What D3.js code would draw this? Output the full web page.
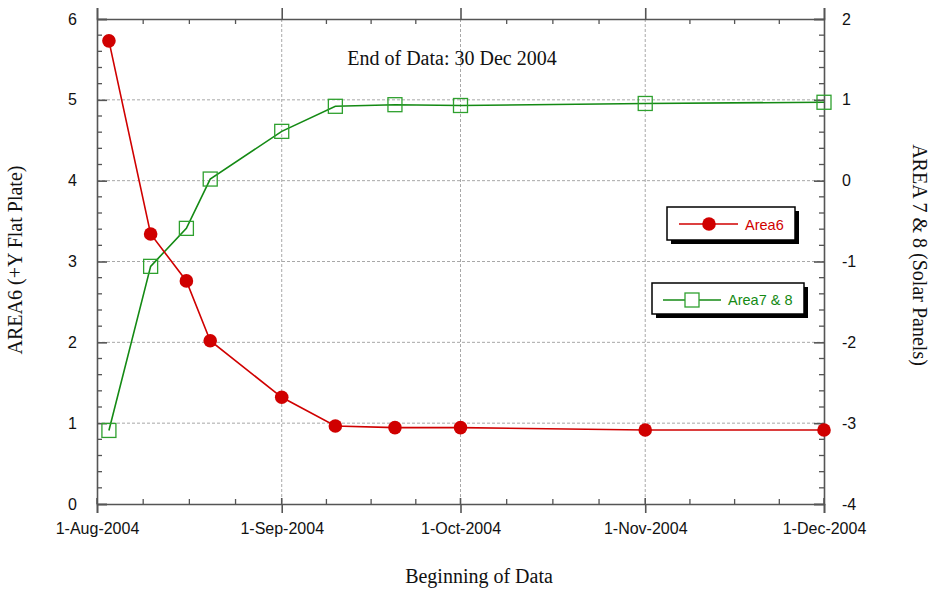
<!DOCTYPE html>
<html>
<head>
<meta charset="utf-8">
<script src="https://cdn.jsdelivr.net/npm/d3@7"></script>
<style>
  body { margin: 0; background: #fff; }
  svg { display: block; }
</style>
</head>
<body>
<svg id="chart" width="935" height="590"></svg>
<script>
// Sample dates shared by both series
const sampleDates = ["2004-08-03", "2004-08-10", "2004-08-16", "2004-08-20", "2004-09-01",
                     "2004-09-10", "2004-09-20", "2004-10-01", "2004-11-01", "2004-12-01"];
// AREA6 (+Y Flat Plate), left axis
const area6 = [5.73, 3.34, 2.76, 2.02, 1.32, 0.965, 0.945, 0.945, 0.915, 0.915];
// AREA 7 & 8 (Solar Panels), right axis
const area78 = [-3.09, -1.06, -0.59, 0.02, 0.61, 0.92, 0.94, 0.93, 0.955, 0.97];

const monthTicks = ["2004-08-01", "2004-09-01", "2004-10-01", "2004-11-01", "2004-12-01"];
const leftTicks = [0, 1, 2, 3, 4, 5, 6];
const rightTicks = [-4, -3, -2, -1, 0, 1, 2];
const seriesNames = ["Area6", "Area7 & 8"];
const chartTitle = "End of Data: 30 Dec 2004";
const xTitle = "Beginning of Data";
const yLeftTitle = "AREA6 (+Y Flat Plate)";
const yRightTitle = "AREA 7 & 8 (Solar Panels)";

const parse = d3.utcParse("%Y-%m-%d");
const dates = sampleDates.map(parse);
const months = monthTicks.map(parse);

const m = { left: 97, right: 824, top: 19, bottom: 504 };

const svg = d3.select("#chart");

const x = d3.scaleUtc().domain([months[0], months[months.length - 1]]).range([m.left, m.right]);
const yL = d3.scaleLinear().domain([0, 6]).range([m.bottom, m.top]);
const yR = d3.scaleLinear().domain([-4, 2]).range([m.bottom, m.top]);

const RED = "#d00000";
const GREEN = "#148a14";
const GREEN_MARK = "#2ea02e";
const AXIS = "#555";
const GRID = "#a8a8a8";

// Grid lines
const grid = svg.append("g");
grid.selectAll("line.gx").data(months.slice(1, -1)).join("line")
  .attr("x1", d => x(d)).attr("x2", d => x(d))
  .attr("y1", m.top).attr("y2", m.bottom)
  .attr("stroke", GRID).attr("stroke-width", 1).attr("stroke-dasharray", "3,2");
grid.selectAll("line.gy").data(leftTicks.slice(1, -1)).join("line")
  .attr("x1", m.left).attr("x2", m.right)
  .attr("y1", d => yL(d)).attr("y2", d => yL(d))
  .attr("stroke", GRID).attr("stroke-width", 1).attr("stroke-dasharray", "3,2");

// Minor ticks: quarter months on x, 0.2 steps on y
const minor = svg.append("g").attr("stroke", AXIS).attr("stroke-width", 1.3);
const minorX = [];
for (let i = 0; i < months.length - 1; i++) {
  const a = x(months[i]), b = x(months[i + 1]);
  for (let k = 1; k < 4; k++) minorX.push(a + (b - a) * k / 4);
}
minorX.forEach(px => {
  minor.append("line").attr("x1", px).attr("x2", px).attr("y1", m.bottom).attr("y2", m.bottom - 5);
  minor.append("line").attr("x1", px).attr("x2", px).attr("y1", m.top).attr("y2", m.top + 5);
});
const minorY = d3.range(0, 30).filter(i => i % 5 !== 0).map(i => i * 0.2);
minorY.forEach(v => {
  minor.append("line").attr("x1", m.left).attr("x2", m.left + 5).attr("y1", yL(v)).attr("y2", yL(v));
  minor.append("line").attr("x1", m.right).attr("x2", m.right - 5).attr("y1", yL(v)).attr("y2", yL(v));
});

// Axes
const fmt = d3.utcFormat("%-d-%b-%Y");
const intFmt = d => String(d);
const styleAxis = g => {
  g.select(".domain").attr("stroke", AXIS).attr("stroke-width", 1.6);
  g.selectAll(".tick line").attr("stroke", AXIS).attr("stroke-width", 1.6);
  g.selectAll("text").attr("fill", "#111").attr("font-family", "'Liberation Sans', Arial, Helvetica, sans-serif").attr("font-size", 16);
};
svg.append("g").attr("transform", `translate(0,${m.bottom})`)
  .call(d3.axisBottom(x).tickValues(months).tickFormat(fmt).tickSizeOuter(0).tickSize(9).tickPadding(10))
  .call(styleAxis);
svg.append("g").attr("transform", `translate(0,${m.top})`)
  .call(d3.axisTop(x).tickValues(months).tickFormat("").tickSizeOuter(0).tickSize(11))
  .call(styleAxis);
svg.append("g").attr("transform", `translate(${m.left},0)`)
  .call(d3.axisLeft(yL).tickValues(leftTicks).tickFormat(intFmt).tickSizeOuter(0).tickSize(-10).tickPadding(20))
  .call(styleAxis);
svg.append("g").attr("transform", `translate(${m.right},0)`)
  .call(d3.axisRight(yR).tickValues(rightTicks).tickFormat(intFmt).tickSizeOuter(0).tickSize(-10).tickPadding(18))
  .call(styleAxis);
// bottom ticks also reach slightly into the plot
svg.append("g").selectAll("line").data(months).join("line")
  .attr("x1", d => x(d)).attr("x2", d => x(d)).attr("y1", m.bottom).attr("y2", m.bottom - 6)
  .attr("stroke", AXIS).attr("stroke-width", 1.6);

// Series lines
const line6 = d3.line().x((d, i) => x(dates[i])).y(d => yL(d));
const line78 = d3.line().x((d, i) => x(dates[i])).y(d => yR(d));
svg.append("path").datum(area78).attr("d", line78)
  .attr("fill", "none").attr("stroke", GREEN).attr("stroke-width", 1.6);
svg.append("path").datum(area6).attr("d", line6)
  .attr("fill", "none").attr("stroke", RED).attr("stroke-width", 1.6);

// Markers
svg.append("g").selectAll("rect").data(area78).join("rect")
  .attr("x", (d, i) => x(dates[i]) - 7).attr("y", d => yR(d) - 7)
  .attr("width", 14).attr("height", 14)
  .attr("fill", "none").attr("stroke", GREEN_MARK).attr("stroke-width", 1.3);
svg.append("g").selectAll("circle").data(area6).join("circle")
  .attr("cx", (d, i) => x(dates[i])).attr("cy", d => yL(d)).attr("r", 6.8)
  .attr("fill", RED);

// Titles
const serif = "'Liberation Serif', 'Times New Roman', Times, serif";
svg.append("text").attr("x", 452).attr("y", 65).attr("text-anchor", "middle")
  .attr("font-family", serif).attr("font-size", 20).attr("fill", "#111").text(chartTitle);
svg.append("text").attr("x", 479).attr("y", 583).attr("text-anchor", "middle")
  .attr("font-family", serif).attr("font-size", 20).attr("fill", "#111").text(xTitle);
svg.append("text").attr("transform", "translate(15,260) rotate(-90)").attr("dy", "0.35em")
  .attr("text-anchor", "middle").attr("font-family", serif).attr("font-size", 20).attr("fill", "#111").text(yLeftTitle);
svg.append("text").attr("transform", "translate(920,255) rotate(90)").attr("dy", "0.35em")
  .attr("text-anchor", "middle").attr("font-family", serif).attr("font-size", 20).attr("fill", "#111").text(yRightTitle);

// Legends
const sans = "'Liberation Sans', Arial, Helvetica, sans-serif";
function legendBox(x0, y0, w, h) {
  const g = svg.append("g");
  g.append("rect").attr("x", x0 + 4).attr("y", y0 + 4).attr("width", w).attr("height", h).attr("fill", "#000");
  g.append("rect").attr("x", x0).attr("y", y0).attr("width", w).attr("height", h)
    .attr("fill", "#fff").attr("stroke", "#000").attr("stroke-width", 1.5);
  return g;
}
const lg1 = legendBox(667, 207, 128, 33);
lg1.append("line").attr("x1", 679).attr("x2", 738).attr("y1", 224).attr("y2", 224).attr("stroke", RED).attr("stroke-width", 1.6);
lg1.append("circle").attr("cx", 709).attr("cy", 224).attr("r", 6.8).attr("fill", RED);
lg1.append("text").attr("x", 745).attr("y", 229.5).attr("font-family", sans).attr("font-size", 14.5)
  .attr("fill", RED).text(seriesNames[0]);

const lg2 = legendBox(652, 283, 152, 31);
lg2.append("line").attr("x1", 663).attr("x2", 721).attr("y1", 300).attr("y2", 300).attr("stroke", GREEN).attr("stroke-width", 1.6);
lg2.append("rect").attr("x", 685).attr("y", 293).attr("width", 14).attr("height", 14)
  .attr("fill", "#fff").attr("stroke", GREEN_MARK).attr("stroke-width", 1.3);
lg2.append("text").attr("x", 728).attr("y", 305).attr("font-family", sans).attr("font-size", 14.5)
  .attr("fill", GREEN).text(seriesNames[1]);
</script>
</body>
</html>
